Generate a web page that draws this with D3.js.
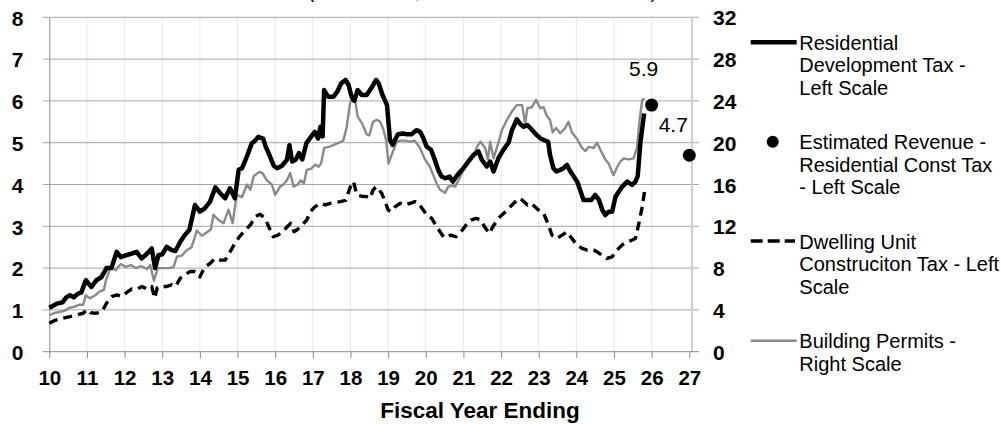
<!DOCTYPE html>
<html>
<head>
<meta charset="utf-8">
<script src="https://cdn.jsdelivr.net/npm/d3@7"></script>
<style>
  html, body { margin: 0; padding: 0; background: #fff; }
  svg { display: block; font-family: "Liberation Sans", Arial, sans-serif; }
</style>
</head>
<body>
<svg id="chart" width="1001" height="424"></svg>
<script>
// ---- Data (fiscal year position, value) ----
const yearTicks = d3.range(10, 28);          // 10 .. 27
const leftTicks = d3.range(0, 9);            // 0 .. 8 ($ millions)
const rightTicks = d3.range(0, 33, 4);       // 0 .. 32 (permits)

// Residential Development Tax, left scale
const residentialDevTax = [
  [10.0,1.05],[10.1,1.1],[10.2,1.15],[10.35,1.18],[10.45,1.3],[10.55,1.35],[10.65,1.3],[10.75,1.38],
  [10.85,1.42],[10.97,1.71],[11.05,1.62],[11.12,1.55],[11.25,1.71],[11.38,1.78],[11.52,2.0],[11.65,2.0],
  [11.79,2.39],[11.9,2.26],[12.05,2.31],[12.2,2.35],[12.32,2.39],[12.45,2.23],[12.58,2.33],[12.72,2.47],
  [12.81,2.0],[12.9,2.31],[13.0,2.33],[13.12,2.51],[13.25,2.43],[13.35,2.41],[13.48,2.63],[13.6,2.79],
  [13.72,2.91],[13.87,3.51],[14.0,3.35],[14.13,3.43],[14.27,3.59],[14.41,3.93],[14.54,3.79],[14.67,3.67],
  [14.8,3.91],[14.93,3.67],[15.03,4.35],[15.12,4.39],[15.25,4.67],[15.38,4.99],[15.45,5.03],[15.55,5.14],
  [15.68,5.1],[15.75,4.9],[15.85,4.7],[15.96,4.45],[16.05,4.39],[16.18,4.45],[16.31,4.59],[16.38,4.94],
  [16.45,4.55],[16.55,4.6],[16.63,4.75],[16.72,4.6],[16.83,4.99],[16.95,5.14],[17.05,5.26],[17.14,5.1],
  [17.2,5.38],[17.26,5.15],[17.3,6.26],[17.4,6.1],[17.55,6.1],[17.65,6.22],[17.75,6.42],[17.87,6.5],
  [17.95,6.38],[18.03,6.1],[18.1,6.0],[18.19,6.26],[18.3,6.14],[18.43,6.14],[18.55,6.3],[18.68,6.5],
  [18.75,6.42],[18.85,6.14],[18.97,5.9],[19.05,5.06],[19.12,4.95],[19.26,5.2],[19.4,5.22],[19.5,5.2],
  [19.62,5.2],[19.75,5.3],[19.85,5.26],[19.94,5.1],[20.02,4.91],[20.14,4.83],[20.24,4.59],[20.33,4.35],
  [20.42,4.19],[20.52,4.15],[20.63,4.19],[20.72,4.07],[20.84,4.23],[21.0,4.39],[21.13,4.55],[21.27,4.71],
  [21.4,4.79],[21.49,4.59],[21.62,4.43],[21.71,4.55],[21.8,4.31],[21.93,4.63],[22.06,4.83],[22.2,5.0],
  [22.29,5.3],[22.42,5.56],[22.5,5.46],[22.6,5.38],[22.7,5.42],[22.8,5.33],[22.95,5.18],[23.05,5.1],
  [23.15,5.06],[23.25,5.02],[23.3,4.71],[23.39,4.39],[23.47,4.31],[23.57,4.35],[23.66,4.39],[23.75,4.47],
  [23.84,4.31],[23.93,4.19],[24.02,4.07],[24.1,3.87],[24.19,3.63],[24.3,3.63],[24.4,3.63],[24.5,3.75],
  [24.6,3.63],[24.69,3.39],[24.77,3.27],[24.86,3.35],[24.95,3.35],[25.04,3.71],[25.13,3.83],[25.22,3.95],
  [25.35,4.07],[25.48,3.99],[25.57,4.07],[25.63,4.2],[25.7,5.0],[25.8,5.7]
];

// Dwelling Unit Construction Tax, left scale
const dwellingUnitTax = [
  [10.0,0.68],[10.15,0.75],[10.35,0.8],[10.55,0.84],[10.72,0.88],[10.9,0.92],[11.0,1.01],[11.1,0.93],
  [11.25,0.92],[11.4,0.96],[11.52,1.16],[11.66,1.32],[11.79,1.36],[11.93,1.32],[12.06,1.42],[12.19,1.5],
  [12.32,1.49],[12.46,1.56],[12.6,1.5],[12.72,1.56],[12.8,1.28],[12.87,1.54],[13.0,1.56],[13.12,1.56],
  [13.25,1.6],[13.35,1.56],[13.48,1.76],[13.6,1.84],[13.74,1.92],[13.87,1.92],[14.0,1.79],[14.13,2.03],
  [14.27,2.11],[14.4,2.23],[14.54,2.19],[14.67,2.19],[14.8,2.39],[14.93,2.59],[15.05,2.75],[15.2,2.91],
  [15.34,3.03],[15.47,3.23],[15.6,3.29],[15.73,3.19],[15.83,2.99],[15.95,2.75],[16.07,2.79],[16.2,2.87],
  [16.32,2.99],[16.41,3.07],[16.5,2.87],[16.6,2.93],[16.71,3.03],[16.84,3.15],[16.93,3.35],[17.06,3.47],
  [17.2,3.55],[17.33,3.51],[17.46,3.55],[17.6,3.57],[17.73,3.59],[17.87,3.62],[18.0,3.95],[18.08,4.07],
  [18.17,3.75],[18.3,3.72],[18.43,3.71],[18.52,3.67],[18.6,3.87],[18.69,3.95],[18.83,3.79],[18.92,3.59],
  [19.0,3.39],[19.08,3.35],[19.19,3.47],[19.32,3.55],[19.45,3.51],[19.58,3.55],[19.72,3.59],[19.81,3.55],
  [19.9,3.43],[20.03,3.27],[20.16,3.19],[20.29,2.99],[20.38,2.87],[20.47,2.75],[20.56,2.73],[20.66,2.79],
  [20.8,2.75],[20.94,2.87],[21.07,3.03],[21.2,3.15],[21.33,3.19],[21.47,3.15],[21.56,2.99],[21.69,2.83],
  [21.78,2.99],[21.93,3.19],[22.07,3.31],[22.2,3.43],[22.34,3.55],[22.47,3.67],[22.56,3.63],[22.7,3.51],
  [22.8,3.55],[22.9,3.47],[23.04,3.35],[23.13,3.31],[23.26,3.03],[23.35,2.79],[23.48,2.71],[23.62,2.79],
  [23.75,2.87],[23.88,2.71],[24.02,2.55],[24.15,2.47],[24.29,2.43],[24.46,2.43],[24.55,2.39],[24.68,2.31],
  [24.81,2.23],[24.95,2.27],[25.08,2.43],[25.21,2.55],[25.35,2.63],[25.48,2.67],[25.57,2.71],[25.66,3.07],
  [25.75,3.47],[25.81,3.83]
];

// Building Permits, right scale
const buildingPermits = [
  [10.0,3.5],[10.13,3.7],[10.27,3.8],[10.4,3.9],[10.53,4.2],[10.66,4.3],[10.8,4.5],[10.9,4.5],
  [10.97,5.4],[11.08,5.1],[11.22,5.4],[11.35,5.8],[11.45,5.9],[11.5,6.8],[11.63,8.1],[11.76,7.8],
  [11.9,8.4],[12.03,8.1],[12.17,8.3],[12.3,8.0],[12.43,8.2],[12.6,7.9],[12.68,8.3],[12.78,6.8],
  [12.88,8.0],[13.0,8.0],[13.17,8.0],[13.3,8.1],[13.39,9.1],[13.52,9.2],[13.65,9.7],[13.78,10.0],
  [13.92,11.6],[14.05,11.1],[14.18,11.4],[14.29,11.7],[14.36,13.1],[14.5,12.6],[14.63,12.3],[14.76,13.6],
  [14.87,12.3],[14.98,15.0],[15.12,14.8],[15.25,16.0],[15.34,15.5],[15.43,16.8],[15.57,17.2],[15.66,17.1],
  [15.78,16.4],[15.91,16.0],[16.0,15.0],[16.13,15.8],[16.22,16.0],[16.31,16.4],[16.4,17.1],[16.49,15.8],
  [16.6,16.0],[16.68,16.4],[16.76,16.1],[16.84,17.4],[16.95,17.5],[17.06,17.9],[17.15,17.7],[17.22,18.0],
  [17.3,19.5],[17.43,19.6],[17.56,19.8],[17.7,20.0],[17.81,20.2],[17.9,21.5],[17.99,23.8],[18.06,24.3],
  [18.12,24.2],[18.19,22.5],[18.3,21.9],[18.43,20.8],[18.5,20.7],[18.6,22.0],[18.7,22.2],[18.79,22.0],
  [18.88,21.2],[18.95,20.2],[19.01,18.0],[19.09,18.8],[19.22,20.0],[19.31,20.2],[19.45,20.2],[19.57,20.1],
  [19.7,20.2],[19.83,19.6],[19.98,18.4],[20.11,17.7],[20.2,16.9],[20.29,16.1],[20.38,15.5],[20.51,15.2],
  [20.6,15.8],[20.7,15.9],[20.78,15.8],[20.87,16.4],[21.0,17.4],[21.13,18.0],[21.27,18.8],[21.36,19.6],
  [21.45,20.1],[21.58,19.5],[21.65,18.4],[21.71,20.1],[21.8,18.5],[21.93,20.0],[22.02,21.2],[22.16,22.2],
  [22.29,23.0],[22.42,23.6],[22.56,23.6],[22.64,21.8],[22.7,23.3],[22.82,23.4],[22.93,24.1],[23.04,23.3],
  [23.13,23.4],[23.21,22.6],[23.3,22.2],[23.37,21.0],[23.46,21.4],[23.57,20.9],[23.7,21.4],[23.79,22.0],
  [23.88,21.0],[24.01,20.4],[24.15,19.5],[24.24,19.2],[24.33,19.6],[24.46,19.5],[24.55,20.0],[24.64,19.3],
  [24.77,18.4],[24.86,18.0],[24.98,16.9],[25.09,17.7],[25.17,18.2],[25.26,18.5],[25.39,18.4],[25.52,18.5],
  [25.61,19.5],[25.68,22.2],[25.75,24.1],[25.81,24.2]
];

// Estimated revenue, residential construction tax (left scale)
const estimateYears = [26, 27];
const estimateValues = [5.9, 4.7];

// ---- Layout ----
const svg = d3.select("#chart");
const x = d3.scaleLinear().domain([10, 27]).range([49.3, 689.3]);
const yL = d3.scaleLinear().domain([0, 8]).range([351.7, 17.3]);
const yR = d3.scaleLinear().domain([0, 32]).range([351.7, 17.3]);
const plotLeft = x(10), plotRight = 691.5, plotTop = yL(8), plotBottom = yL(0);
const gridStart = plotLeft - 6.5, gridEnd = plotRight + 7.5;
const FONT = "'Liberation Sans', Arial, sans-serif";

// Title line (runs off the top edge of the page)
svg.append("text")
  .attr("x", 308).attr("y", -2.2)
  .attr("font-size", 19).attr("fill", "#000")
  .text("(Millions of $, Twelve Month Annual Total)");

// Vertical year gridlines
svg.append("g").selectAll("line")
  .data(yearTicks.filter(d => d > 10 && d < 27))
  .join("line")
  .attr("x1", d => x(d)).attr("x2", d => x(d))
  .attr("y1", plotTop).attr("y2", plotBottom)
  .attr("stroke", "#e9ecd0").attr("stroke-width", 1);

// Horizontal gridlines (extend through both axes as tick marks)
svg.append("g").selectAll("line")
  .data(leftTicks.filter(d => d > 0))
  .join("line")
  .attr("x1", gridStart).attr("x2", gridEnd)
  .attr("y1", d => yL(d)).attr("y2", d => yL(d))
  .attr("stroke", "#a6a6a6").attr("stroke-width", 1);

// Right axis
const rightAxis = svg.append("g")
  .attr("transform", `translate(${plotRight},0)`)
  .call(d3.axisRight(yR).tickValues(rightTicks).tickSize(0).tickPadding(21.5).tickSizeOuter(0));
rightAxis.select(".domain").attr("stroke", "#cfcfcf").attr("stroke-width", 2.2);
rightAxis.selectAll("text")
  .attr("font-size", 21).attr("font-weight", "bold").attr("fill", "#000")
  .attr("font-family", FONT).attr("dy", "0.36em");

// Left axis
const leftAxis = svg.append("g")
  .attr("transform", `translate(${plotLeft},0)`)
  .call(d3.axisLeft(yL).tickValues(leftTicks).tickSize(0).tickPadding(25.8).tickSizeOuter(0));
leftAxis.select(".domain").attr("stroke", "#8c8c8c").attr("stroke-width", 1);
leftAxis.selectAll("text")
  .attr("font-size", 21).attr("font-weight", "bold").attr("fill", "#000")
  .attr("font-family", FONT).attr("dy", "0.37em");

// Bottom axis
const bottomAxis = svg.append("g")
  .attr("transform", `translate(0,${plotBottom})`)
  .call(d3.axisBottom(x).tickValues(yearTicks).tickSize(6.5).tickPadding(12).tickSizeOuter(0));
bottomAxis.select(".domain").remove();
bottomAxis.selectAll(".tick line").attr("stroke", "#8c8c8c");
bottomAxis.selectAll("text")
  .attr("font-size", 20.5).attr("font-weight", "bold").attr("fill", "#000")
  .attr("font-family", FONT);
svg.append("line")
  .attr("x1", gridStart).attr("x2", gridEnd)
  .attr("y1", plotBottom).attr("y2", plotBottom)
  .attr("stroke", "#8c8c8c").attr("stroke-width", 1);

// X axis title
svg.append("text")
  .attr("x", 480).attr("y", 417.5)
  .attr("text-anchor", "middle")
  .attr("font-size", 22.5).attr("font-weight", "bold")
  .text("Fiscal Year Ending");

// ---- Series ----
const lineL = d3.line().x(d => x(d[0])).y(d => yL(d[1]));
const lineR = d3.line().x(d => x(d[0])).y(d => yR(d[1]));

svg.append("path").datum(buildingPermits)
  .attr("d", lineR).attr("fill", "none")
  .attr("stroke", "#8a8a8a").attr("stroke-width", 2.4)
  .attr("stroke-linejoin", "round");

svg.append("path").datum(dwellingUnitTax)
  .attr("d", lineL).attr("fill", "none")
  .attr("stroke", "#000").attr("stroke-width", 3.4)
  .attr("stroke-dasharray", "9,6")
  .attr("stroke-linejoin", "round");

svg.append("path").datum(residentialDevTax)
  .attr("d", lineL).attr("fill", "none")
  .attr("stroke", "#000").attr("stroke-width", 4.5)
  .attr("stroke-linejoin", "round");

const estimates = estimateYears.map((t, i) => ({ t, v: estimateValues[i] }));
svg.append("g").selectAll("circle")
  .data(estimates).join("circle")
  .attr("cx", d => x(d.t)).attr("cy", d => yL(d.v))
  .attr("r", 6.5).attr("fill", "#000");

// value labels for estimates
const labelOffsets = [{ dx: -8, dy: -29 }, { dx: -16, dy: -23 }];
svg.append("g").selectAll("text")
  .data(estimates).join("text")
  .attr("x", (d, i) => x(d.t) + labelOffsets[i].dx)
  .attr("y", (d, i) => yL(d.v) + labelOffsets[i].dy)
  .attr("text-anchor", "middle")
  .attr("font-size", 21)
  .text(d => d.v.toFixed(1));

// ---- Legend ----
const legend = svg.append("g");
const legendItems = [
  { kind: "solid",  y: 42.3,  lines: ["Residential", "Development Tax -", "Left Scale"] },
  { kind: "dot",    y: 141.7, lines: ["Estimated Revenue -", "Residential Const Tax", "- Left Scale"] },
  { kind: "dashed", y: 241,   lines: ["Dwelling Unit", "Construciton Tax - Left", "Scale"] },
  { kind: "gray",   y: 340.7, lines: ["Building Permits -", "Right Scale"] }
];
legendItems.forEach(item => {
  if (item.kind === "dot") {
    legend.append("circle").attr("cx", 772.7).attr("cy", item.y).attr("r", 6).attr("fill", "#000");
  } else {
    legend.append("line")
      .attr("x1", 750.7).attr("x2", item.kind === "dashed" ? 795 : 796.7)
      .attr("y1", item.y).attr("y2", item.y)
      .attr("stroke", item.kind === "gray" ? "#8a8a8a" : "#000")
      .attr("stroke-width", item.kind === "solid" ? 4.5 : item.kind === "dashed" ? 3.4 : 2.4)
      .attr("stroke-dasharray", item.kind === "dashed" ? "12,5" : null);
  }
  const t = legend.append("text")
    .attr("x", 799.3).attr("y", item.y + 7.5)
    .attr("font-size", 20).attr("fill", "#000");
  item.lines.forEach((s, i) => {
    t.append("tspan").attr("x", 799.3).attr("dy", i === 0 ? 0 : 22.5).text(s);
  });
});
</script>
</body>
</html>
